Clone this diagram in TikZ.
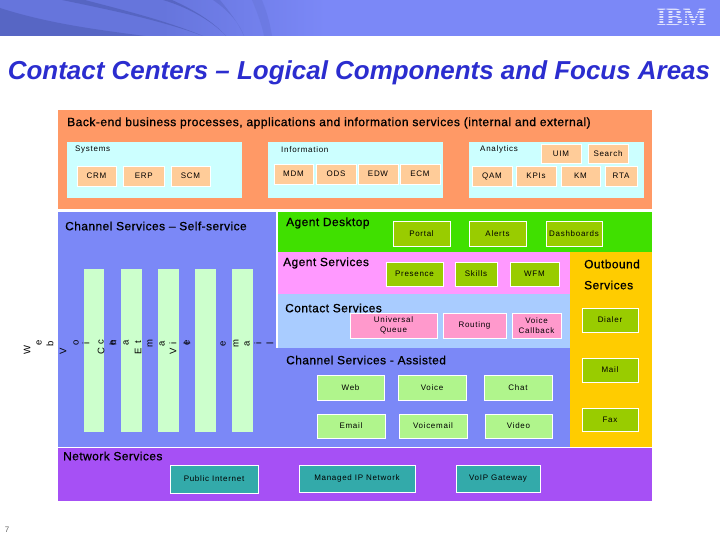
\documentclass[tikz,border=0pt]{standalone}
\usepackage{fontspec}
\setmainfont{Liberation Sans}
\newfontfamily\lab[LetterSpace=9]{Liberation Sans}
\newfontfamily\hd[LetterSpace=4,FakeBold=0.8]{Liberation Sans}
\definecolor{cOrange}{HTML}{FF9966}
\definecolor{cCyan}{HTML}{CCFFFF}
\definecolor{cPeach}{HTML}{FFCC99}
\definecolor{cBlue}{HTML}{7B88F7}
\definecolor{cBar}{HTML}{CCFFCC}
\definecolor{cGreen}{HTML}{40E000}
\definecolor{cOlive}{HTML}{99CC00}
\definecolor{cPink}{HTML}{FF99FF}
\definecolor{cSky}{HTML}{A9CCFF}
\definecolor{cRose}{HTML}{FF99CC}
\definecolor{cLime}{HTML}{B0F58C}
\definecolor{cGold}{HTML}{FFCC00}
\definecolor{cPurple}{HTML}{A650F5}
\definecolor{cTeal}{HTML}{33AAAA}
\definecolor{cTitle}{HTML}{2B2DCF}
\definecolor{cBand}{HTML}{7B88F7}
\definecolor{cBase}{HTML}{6675DC}
\definecolor{cDark}{HTML}{4A58AE}
\tikzset{
  region/.style={draw=none,inner sep=0pt,outer sep=0pt},
  bx/.style={draw=white,line width=0.9pt,inner sep=0pt,outer sep=0pt,align=center,text=black,font=\lab\fontsize{8}{10.5}\selectfont},
  smallhead/.style={anchor=west,inner sep=0pt,font=\lab\fontsize{8}{10}\selectfont},
  head/.style={anchor=west,inner sep=0pt,text=black,font=\hd\fontsize{11.9}{13}\selectfont},
  vl/.style={rotate=90,inner sep=0pt,font=\fontspec{Liberation Sans}\fontsize{9.5}{10}\selectfont}
}
% name, x1, y1, x2, y2, fill, text
\newcommand{\bxn}[7]{\node[bx,fill=#6,minimum width={(#4-#2)*1pt},minimum height={(#5-#3)*1pt}] (#1) at ({(#2+#4)/2},{(#3+#5)/2}) {#7};}
\begin{document}
\begin{tikzpicture}[x=1pt,y=-1pt]
\useasboundingbox (0,0) rectangle (720,540);
\fill[white] (0,0) rectangle (720,540);
% header band
\begin{scope}
\clip (0,0) rectangle (720,36);
\fill[cBand] (0,0) rectangle (720,36);
\shade[left color=cBase,right color=cBand,middle color=cBase] (0,0) rectangle (325,36);
\fill[cDark,opacity=.5] (0,8) .. controls (50,24) and (100,30) .. (145,36) -- (0,36) -- cycle;
\fill[cDark,opacity=.55] (62,0) .. controls (110,10) and (160,20) .. (203,36) .. controls (165,20) and (115,8) .. (85,0) -- cycle;
\fill[cDark,opacity=.55] (163,0) .. controls (190,8) and (213,22) .. (226,36) .. controls (212,20) and (190,8) .. (172,0) -- cycle;
\fill[cDark,opacity=.3] (213,0) .. controls (228,10) and (240,24) .. (244,36) .. controls (238,22) and (228,10) .. (220,0) -- cycle;
\fill[cDark,opacity=.15] (252,0) .. controls (258,14) and (262,26) .. (264,36) -- (272,36) .. controls (270,22) and (266,10) .. (262,0) -- cycle;
\end{scope}
% IBM logo
\node[inner sep=0pt,text=white!75!cBand,font=\fontspec{Liberation Serif}\bfseries\fontsize{25}{25}\selectfont] (ibm) at (681.5,17.5) {IBM};
\foreach \s in {10,12.6,15.2,17.8,20.4,23,25.6}{\fill[cBand] (650,\s) rectangle (712,{\s+1});}
% title
\node[inner sep=0pt,text=cTitle,font=\bfseries\itshape\fontsize{25.95}{30}\selectfont] (title) at (359,73) {Contact Centers – Logical Components and Focus Areas};
% back-end
\fill[cOrange] (58,110) rectangle (652,209);
\node[head,font=\hd\fontsize{12.05}{13}\selectfont] (backend) at (67,123) {Back-end business processes, applications and information services (internal and external)};
\fill[cCyan] (67,142) rectangle (242,198);
\fill[cCyan] (268,142) rectangle (443,198);
\fill[cCyan] (469,142) rectangle (644,198);
\node[smallhead] (sys) at (75,150) {Systems};
\node[smallhead] (inf) at (281,150) {Information};
\node[smallhead] (ana) at (480,149) {Analytics};
\bxn{crm}{77}{166}{116}{186}{cPeach}{CRM}
\bxn{erp}{123.5}{166}{164}{186}{cPeach}{ERP}
\bxn{scm}{171}{166}{210}{186}{cPeach}{SCM}
\bxn{mdm}{274}{164}{313}{184}{cPeach}{MDM}
\bxn{ods}{316}{164}{356}{184}{cPeach}{ODS}
\bxn{edw}{358}{164}{398}{184}{cPeach}{EDW}
\bxn{ecm}{400}{164}{440}{184}{cPeach}{ECM}
\bxn{qam}{472}{166}{512}{186}{cPeach}{QAM}
\bxn{kpi}{516}{166}{556}{186}{cPeach}{KPIs}
\bxn{km}{561}{166}{600}{186}{cPeach}{KM}
\bxn{rta}{605}{166}{637}{186}{cPeach}{RTA}
\bxn{uim}{541}{144}{581}{163}{cPeach}{UIM}
\bxn{search}{588}{144}{628}{163}{cPeach}{Search}
% channel regions
\fill[cBlue] (58,212) rectangle (276,447);
\fill[cBlue] (276,348) rectangle (570,447);
\fill[cGreen] (278,212) rectangle (652,252);
\fill[cPink] (278,252) rectangle (570,294);
\fill[cSky] (278,294) rectangle (570,348);
\fill[cGold] (570,252) rectangle (652,447);
\fill[white] (276,212) rectangle (278,348);
\fill[cPurple] (58,448) rectangle (652,501);
% bars
\foreach \a/\b in {84/104,121/142,158/179,195/216,232/253}{\fill[cBar] (\a,269) rectangle (\b,432);}
% headings
\node[head] (chself) at (65,226) {Channel Services – Self-service};
\node[head] (desk) at (286,223) {Agent Desktop};
\node[head] (agent) at (283,263) {Agent Services};
\node[head] (contact) at (285,308) {Contact Services};
\node[head] (chass) at (286,360) {Channel Services - Assisted};
\node[head] (net) at (63,456) {Network Services};
\node[head] (outb1) at (584,264) {Outbound};
\node[head] (outb2) at (584,285) {Services};
% agent desktop
\bxn{portal}{393}{221}{450}{246}{cOlive}{Portal}
\bxn{alerts}{469}{221}{526}{246}{cOlive}{Alerts}
\bxn{dash}{546}{221}{602}{246}{cOlive}{Dashboards}
\bxn{pres}{386}{262}{443}{286}{cOlive}{Presence}
\bxn{skills}{455}{262}{497}{286}{cOlive}{Skills}
\bxn{wfm}{510}{262}{559}{286}{cOlive}{WFM}
\bxn{uq}{350}{313}{437}{338}{cRose}{Universal\\Queue}
\bxn{rout}{443}{313}{506}{338}{cRose}{Routing}
\bxn{vcb}{512}{313}{561}{338}{cRose}{Voice\\Callback}
\bxn{web}{317}{375}{384}{400}{cLime}{Web}
\bxn{voice}{398}{375}{466}{400}{cLime}{Voice}
\bxn{chat}{484}{375}{552}{400}{cLime}{Chat}
\bxn{email}{317}{414}{385}{438}{cLime}{Email}
\bxn{vmail}{399}{414}{467}{438}{cLime}{Voicemail}
\bxn{video}{485}{414}{552}{438}{cLime}{Video}
\bxn{dialer}{582}{308}{638}{332}{cOlive}{Dialer}
\bxn{mail}{582}{358}{638}{382}{cOlive}{Mail}
\bxn{fax}{582}{408}{638}{431}{cOlive}{Fax}
\bxn{pub}{170}{465}{258}{493}{cTeal}{Public Internet}
\bxn{mip}{299}{465}{415}{492}{cTeal}{Managed IP Network}
\bxn{voip}{456}{465}{540}{492}{cTeal}{VoIP Gateway}
% stacked vertical letters
\foreach \x/\y/\t [count=\i] in {27/350/W,39/343/e,50/344/b,63/351/V,76/343/o,86/343/i,101/351/C,101/342/c,113/343/e,113/343/h,126/343/a,138/351/E,138/342/t,150/344/m,162/344/a,173/343/i,173/351/V,187/343/e,187/343/l,223/344/e,236/344/m,247/344/a,258/343/i,270/343/l}{
  \node[vl] (v\i) at (\x,\y) {\t};
}
% page number
\node[inner sep=0pt,text=black!60,font=\fontsize{8}{10}\selectfont] (pg) at (7,530) {7};
\end{tikzpicture}
\end{document}
